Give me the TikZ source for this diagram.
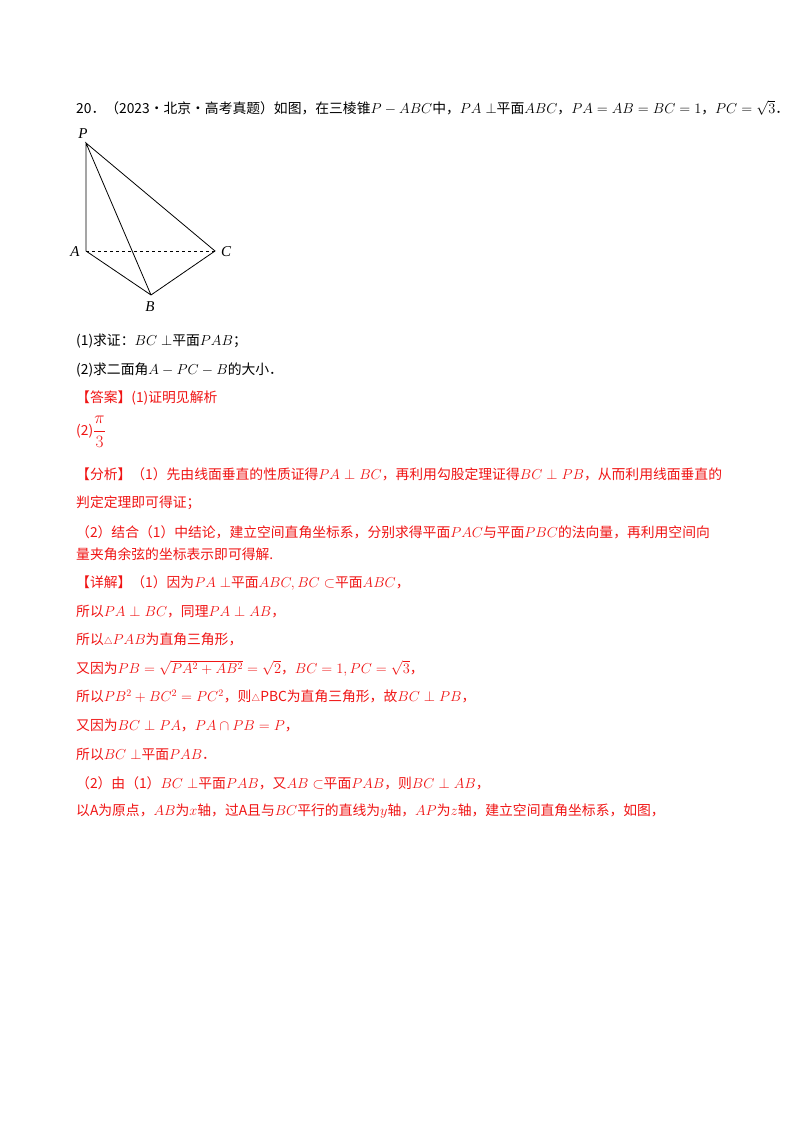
\documentclass[tikz,border=0pt]{standalone}
\usepackage{amsmath,amssymb}
\usepackage{fontspec}
\setmainfont{Liberation Serif}
\newfontfamily\cjk{Noto Sans CJK SC}
\newcommand{\mth}[1]{{\fontsize{14.3}{17}\selectfont$#1$}}
\begin{document}
\begin{tikzpicture}[x=1pt,y=-1pt,
  txt/.style={anchor=west,inner sep=0pt,font=\fontsize{13.8}{15}\cjk},
  red/.style={txt,text={rgb,255:red,240;green,20;blue,20}},
  lab/.style={inner sep=0pt,font=\fontsize{15}{17}\selectfont\itshape}]
\useasboundingbox[fill=white] (0,0) rectangle (800,1132);
\node[txt] (l1) at (76,108) {20．（2023·北京·高考真题）如图，在三棱锥\mth{P-ABC}中，\mth{PA\perp}平面\mth{ABC}，\mth{PA=AB=BC=1}，\mth{PC=\sqrt{3}}．};
\coordinate (P) at (86,143);
\coordinate (A) at (86,251);
\coordinate (C) at (215,251);
\coordinate (B) at (151,295);
\draw[line width=0.8pt] (P)--(A)--(B)--(C)--(P)--(B);
\draw[line width=0.8pt,dashed] (A)--(C);
\node[lab] (lP) at (83,134) {P};
\node[lab] (lA) at (75,252) {A};
\node[lab] (lC) at (226,252) {C};
\node[lab] (lB) at (150,307) {B};
\node[txt] (q1) at (76,341) {(1)求证：\mth{BC\perp}平面\mth{PAB}；};
\node[txt] (q2) at (76,370) {(2)求二面角\mth{A-PC-B}的大小．};
\node[red] (a1) at (76,398) {【答案】(1)证明见解析};
\node[red] (a2) at (76,432) {(2){\fontsize{19}{22}\selectfont$\dfrac{\pi}{3}$}};
\node[red] (f1) at (76,474) {【分析】（1）先由线面垂直的性质证得\mth{PA\perp BC}，再利用勾股定理证得\mth{BC\perp PB}，从而利用线面垂直的};
\node[red] (f2) at (76,503) {判定定理即可得证；};
\node[red] (f3) at (76,532) {（2）结合（1）中结论，建立空间直角坐标系，分别求得平面\mth{PAC}与平面\mth{PBC}的法向量，再利用空间向};
\node[red] (f4) at (76,554) {量夹角余弦的坐标表示即可得解.};
\node[red] (d1) at (76,583) {【详解】（1）因为\mth{PA\perp}平面\mth{ABC,BC\subset}平面\mth{ABC}，};
\node[red] (d2) at (76,612) {所以\mth{PA\perp BC}，同理\mth{PA\perp AB}，};
\node[red] (d3) at (76,640) {所以\mth{\scriptstyle\triangle}\mth{PAB}为直角三角形，};
\node[red] (d4) at (76,668) {又因为\mth{PB=\sqrt{PA^2+AB^2}=\sqrt{2}}，\mth{BC=1,PC=\sqrt{3}}，};
\node[red] (d5) at (76,697) {所以\mth{PB^2+BC^2=PC^2}，则\mth{\scriptstyle\triangle}PBC为直角三角形，故\mth{BC\perp PB}，};
\node[red] (d6) at (76,725) {又因为\mth{BC\perp PA}，\mth{PA\cap PB=P}，};
\node[red] (d7) at (76,754) {所以\mth{BC\perp}平面\mth{PAB}．};
\node[red] (d8) at (76,783) {（2）由（1）\mth{BC\perp}平面\mth{PAB}，又\mth{AB\subset}平面\mth{PAB}，则\mth{BC\perp AB}，};
\node[red] (d9) at (76,811) {以A为原点，\mth{AB}为\mth{x}轴，过A且与\mth{BC}平行的直线为\mth{y}轴，\mth{AP}为\mth{z}轴，建立空间直角坐标系，如图，};
\end{tikzpicture}
\end{document}
